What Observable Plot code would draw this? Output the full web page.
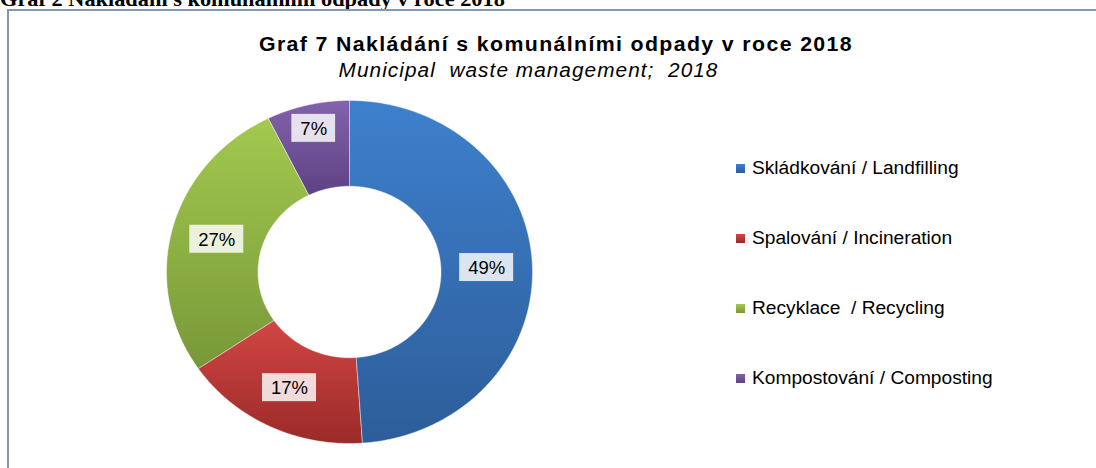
<!DOCTYPE html>
<html>
<head>
<meta charset="utf-8">
<script src="https://cdn.jsdelivr.net/npm/d3@7"></script>
<script src="https://cdn.jsdelivr.net/npm/@observablehq/plot@0.6"></script>
<style>
  body { margin: 0; background: #fff; }
  #wrap { position: relative; width: 1096px; height: 468px; overflow: hidden; font-family: "Liberation Sans", Arial, sans-serif; color: #000; }
  #doc { position: absolute; left: 0; top: -11px; font-family: "Liberation Serif", "Times New Roman", serif; font-weight: bold; font-size: 21px; line-height: 21px; white-space: nowrap; transform-origin: 0 0; transform: scaleX(1.064); }
  #frame { position: absolute; left: 7px; top: 9px; width: 1300px; height: 700px; border-left: 2px solid #8497b5; border-top: 2px solid #8497b5; box-sizing: border-box; }
  #chart { position: absolute; left: 0; top: 0; }
  #title { position: absolute; left: 0; width: 1112px; top: 33px; text-align: center; font-weight: bold; font-size: 20px; line-height: 22px; letter-spacing: 1.3px; white-space: pre; transform: scaleX(1.064); transform-origin: 556px 0; }
  #subtitle { position: absolute; left: 0; width: 1057px; top: 59px; text-align: center; font-style: italic; font-size: 19.5px; line-height: 22px; letter-spacing: 1px; white-space: pre; transform: scaleX(1.064); transform-origin: 528px 0; }
  #legend { position: absolute; left: 736px; top: 0; }
  .item { position: absolute; left: 0; white-space: pre; font-size: 18px; line-height: 20px; }
  .sw { position: absolute; left: 0; width: 9px; height: 9px; }
  .lt { position: absolute; left: 16px; transform: scaleX(1.064); transform-origin: 0 0; }
</style>
</head>
<body>
<div id="wrap">
  <div id="doc">Graf 2 Nakládání s komunálními odpady v roce 2018</div>
  <div id="frame"></div>
  <div id="chart"></div>
  <div id="title"></div>
  <div id="subtitle"></div>
  <div id="legend"></div>
</div>
<script>
// ---- data ----
const titleText = "Graf 7 Nakládání s komunálními odpady v roce 2018";
const subtitleText = "Municipal  waste management;  2018";
const categories = ["Skládkování / Landfilling", "Spalování / Incineration", "Recyklace  / Recycling", "Kompostování / Composting"];
const shares = [48.9, 16.6, 27.2, 7.3];
const shareLabels = ["49%", "17%", "27%", "7%"];

// ---- style ----
const paletteTop = ["#3e80cd", "#d24644", "#a3c94f", "#8363ac"];
const paletteBottom = ["#2d5d9a", "#9a2a28", "#789838", "#5d4283"];

document.getElementById("title").textContent = titleText;
document.getElementById("subtitle").textContent = subtitleText;

// ---- geometry derived from the values ----
const total = d3.sum(shares);
const innerRatio = 0.5;
let acc = 0;
const slices = shares.map((v, i) => {
  const a0 = acc / total * 2 * Math.PI;
  acc += v;
  const a1 = acc / total * 2 * Math.PI;
  return {i, a0, a1, v};
});
const ring = [];
slices.forEach(s => {
  const n = Math.max(2, Math.ceil((s.a1 - s.a0) / (Math.PI / 360)));
  for (let k = 0; k <= n; k++) {
    const a = s.a0 + (s.a1 - s.a0) * k / n;
    ring.push({slice: s.i, x: Math.sin(a), y: Math.cos(a)});
  }
  for (let k = n; k >= 0; k--) {
    const a = s.a0 + (s.a1 - s.a0) * k / n;
    ring.push({slice: s.i, x: innerRatio * Math.sin(a), y: innerRatio * Math.cos(a)});
  }
});
const labelData = slices.map(s => {
  const am = (s.a0 + s.a1) / 2;
  const r = s.v / total < 0.1 ? 0.86 : (1 + innerRatio) / 2;
  return {slice: s.i, x: r * Math.sin(am), y: r * Math.cos(am), text: shareLabels[s.i]};
});

const labelFont = 18.5;
const marks = [];
slices.forEach(s => {
  marks.push(Plot.line(ring.filter(d => d.slice === s.i), {
    x: "x", y: "y", curve: "linear-closed",
    fill: `url(#grad${s.i})`, stroke: "#ffffff", strokeWidth: 0.6, strokeOpacity: 0.7
  }));
});
labelData.forEach(d => {
  const hw = (d.text.length - 1) * labelFont * 0.556 / 2 + labelFont * 0.889 / 2 + 8.5;
  marks.push(Plot.rect([d], {
    x1: "x", x2: "x", y1: "y", y2: "y",
    insetLeft: -hw, insetRight: -hw, insetTop: -14, insetBottom: -14,
    fill: "#ffffff", fillOpacity: 0.82
  }));
});
marks.push(Plot.text(labelData, {x: "x", y: "y", text: "text", fontSize: labelFont, fill: "#000000", dy: 0.5}));

const svg = Plot.plot({
  width: 1096,
  height: 468,
  marginTop: 0, marginRight: 0, marginBottom: 0, marginLeft: 0,
  x: {type: "linear", domain: [-1, 1], range: [166, 532], axis: null},
  y: {type: "linear", domain: [-1, 1], range: [443, 100], axis: null},
  style: {fontFamily: "Liberation Sans, Arial, sans-serif", background: "transparent", overflow: "visible"},
  marks
});

const ns = "http://www.w3.org/2000/svg";
const defs = document.createElementNS(ns, "defs");
paletteTop.forEach((c, i) => {
  const lg = document.createElementNS(ns, "linearGradient");
  lg.setAttribute("id", `grad${i}`);
  lg.setAttribute("x1", "0"); lg.setAttribute("y1", "0");
  lg.setAttribute("x2", "0"); lg.setAttribute("y2", "1");
  [[0, c], [1, paletteBottom[i]]].forEach(([o, col]) => {
    const st = document.createElementNS(ns, "stop");
    st.setAttribute("offset", o);
    st.setAttribute("stop-color", col);
    lg.appendChild(st);
  });
  defs.appendChild(lg);
});
svg.insertBefore(defs, svg.firstChild);
document.getElementById("chart").appendChild(svg);

// ---- legend ----
const legend = document.getElementById("legend");
categories.forEach((c, i) => {
  const row = document.createElement("div");
  row.className = "item";
  row.style.top = (158 + i * 70) + "px";
  const sw = document.createElement("div");
  sw.className = "sw";
  sw.style.top = "6px";
  sw.style.background = `linear-gradient(${paletteTop[i]}, ${paletteBottom[i]})`;
  const t = document.createElement("div");
  t.className = "lt";
  t.textContent = c;
  row.appendChild(sw);
  row.appendChild(t);
  legend.appendChild(row);
});
</script>
</body>
</html>
